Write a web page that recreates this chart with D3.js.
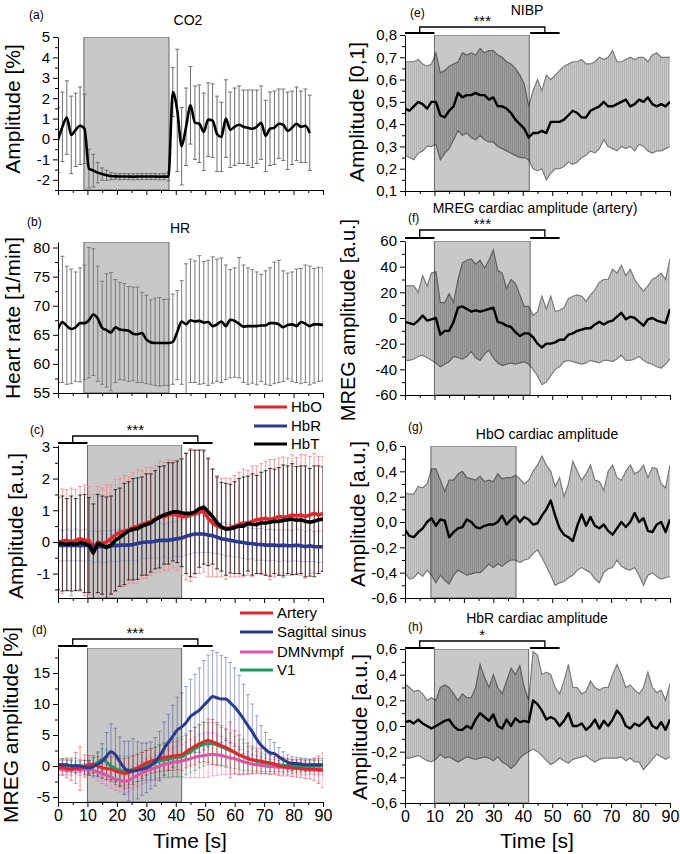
<!DOCTYPE html>
<html>
<head>
<meta charset="utf-8">
<script src="https://cdn.jsdelivr.net/npm/d3@7"></script>
<style>
  body { margin: 0; background: #fff; }
  svg { font-family: "Liberation Sans", Arial, sans-serif; }
</style>
</head>
<body>
<svg id="chart" width="680" height="854"></svg>
<script>
// Time grid [s]
var time = [0, 1.5, 3, 4.5, 6, 7.5, 9, 10.5, 12, 13.5,
  15, 16.5, 18, 19.5, 21, 22.5, 24, 25.5, 27, 28.5,
  30, 31.5, 33, 34.5, 36, 37.5, 39, 40.5, 42, 43.5,
  45, 46.5, 48, 49.5, 51, 52.5, 54, 55.5, 57, 58.5,
  60, 61.5, 63, 64.5, 66, 67.5, 69, 70.5, 72, 73.5,
  75, 76.5, 78, 79.5, 81, 82.5, 84, 85.5, 87, 88.5, 90];

// Breath-hold periods [s] and significance brackets
var stimShort = [8.8, 37.7];
var stimLong = [10, 42];
var stimNibp = [10, 42.2];
var stimCard = [10, 42.5];
var sigBase = [0, 10];
var sigPost = [42.5, 52.5];
var sigArms = [5, 47.5];

// Tick labels
var xMajor = [0, 10, 20, 30, 40, 50, 60, 70, 80, 90];
var xMinor = [5, 15, 25, 35, 45, 55, 65, 75, 85];
var co2Ticks = [-2, -1, 0, 1, 2, 3, 4, 5];
var co2Minor = [-2.5, -1.5, -0.5, 0.5, 1.5, 2.5, 3.5, 4.5];
var hrTicks = [55, 60, 65, 70, 75, 80];
var hrMinor = [57.5, 62.5, 67.5, 72.5, 77.5];
var nirsTicks = [-1, 0, 1, 2, 3];
var nirsMinor = [-1.5, -0.5, 0.5, 1.5, 2.5];
var mregTicks = [-5, 0, 5, 10, 15];
var mregMinor = [-2.5, 2.5, 7.5, 12.5, 17.5];
var nibpTicks = [0.1, 0.2, 0.3, 0.4, 0.5, 0.6, 0.7, 0.8];
var nibpMinor = [0.15, 0.25, 0.35, 0.45, 0.55, 0.65, 0.75];
var cardTicks = [-60, -40, -20, 0, 20, 40, 60];
var cardMinor = [-50, -30, -10, 10, 30, 50];
var hbTicks = [-0.6, -0.4, -0.2, 0, 0.2, 0.4, 0.6];
var hbMinor = [-0.5, -0.3, -0.1, 0.1, 0.3, 0.5];

// (a) CO2
var co2Mean = [-0.05, 0.6, 1.05, 0.2, 0.45, 0.65, 0.5, -1.45, -1.55, -1.65,
  -1.72, -1.78, -1.82, -1.83, -1.84, -1.84, -1.84, -1.85, -1.84, -1.84,
  -1.84, -1.84, -1.84, -1.85, -1.84, -1.85, 2.3, 1.4, -0.35, 0.6,
  1.65, 0.8, 0.75, 0.35, 0.95, 0.9, 0.25, 0.1, 1.0, 0.45,
  0.6, 0.7, 0.6, 0.55, 0.5, 0.6, 0.8, 0.15, 0.5, 0.55,
  0.75, 0.7, 0.4, 0.55, 0.75, 0.6, 0.65, 0.3, null, null, null];
var co2Err = [1.6, 1.7, 1.8, 1.9, 1.8, 1.9, 1.7, 0.95, 0.8, 0.5,
  0.3, 0.25, 0.18, 0.15, 0.15, 0.15, 0.15, 0.15, 0.15, 0.15,
  0.15, 0.15, 0.15, 0.15, 0.15, 0.2, 1.2, 3.0, 1.9, 1.9,
  1.9, 1.8, 1.9, 1.9, 1.8, 1.8, 1.85, 1.7, 1.9, 1.85,
  1.9, 1.9, 1.8, 1.85, 1.9, 1.8, 1.8, 1.75, 1.8, 1.8,
  1.7, 1.75, 1.9, 1.8, 1.8, 1.75, 1.8, 1.85, null, null, null];

// (b) HR
var hrMean = [66.0, 67.2, 66.5, 66.0, 66.3, 67.0, 67.0, 67.5, 68.5, 67.8,
  66.2, 65.8, 65.4, 66.3, 65.9, 65.8, 65.7, 65.2, 65.1, 65.3,
  64.2, 63.7, 63.6, 63.6, 63.6, 63.6, 63.8, 65.5, 67.3, 66.8,
  67.5, 67.3, 67.4, 67.1, 67.2, 66.5, 66.8, 67.3, 66.5, 67.6,
  67.4, 66.9, 66.4, 66.5, 66.5, 66.5, 66.6, 66.6, 67.0, 67.0,
  66.8, 66.3, 66.7, 66.8, 66.5, 67.2, 66.9, 66.5, 66.8, 66.8, 66.7];
var hrUp = [76.0, 78.5, 76.8, 76.3, 75.8, 76.5, 77.0, 80.0, 79.8, 76.8,
  74.2, 75.5, 75.7, 74.5, 74.0, 73.8, 73.3, 73.2, 73.2, 72.3,
  71.8, 71.0, 71.3, 71.4, 71.1, 71.1, 72.0, 72.6, 74.3, 77.2,
  78.0, 77.7, 78.6, 77.6, 77.8, 78.4, 78.0, 78.2, 77.0, 76.2,
  76.5, 78.3, 77.0, 76.5, 76.2, 75.8, 75.4, 76.0, 76.5, 77.5,
  77.8, 76.0, 75.6, 75.8, 76.3, 76.4, 77.0, 76.8, 76.4, 76.6, 76.5];
var hrLo = [56.8, 56.8, 56.5, 56.6, 57.0, 56.9, 57.3, 57.6, 58.0, 57.0,
  56.5, 56.0, 55.4, 56.8, 57.3, 57.2, 57.0, 57.1, 56.8, 56.8,
  56.6, 56.5, 56.3, 56.2, 56.3, 56.3, 56.5, 57.3, 56.5, 54.5,
  56.8, 56.8, 56.5, 56.6, 56.3, 56.7, 57.0, 56.8, 57.3, 57.6,
  57.7, 57.6, 56.8, 56.5, 56.7, 56.4, 57.0, 56.5, 56.3, 56.6,
  56.8, 57.0, 57.4, 57.0, 56.8, 56.6, 56.8, 56.4, 56.7, 57.0, 57.1];

// (c) NIRS
var nirsNames = ["HbO", "HbR", "HbT"];
var nirsColors = ["#e3262d", "#2b3a8f", "#000000"];
var hboMean = [0.0, 0.02, 0.05, 0.0, 0.05, 0.1, 0.05, 0.05, -0.2, 0.0,
  -0.05, 0.0, 0.1, 0.22, 0.3, 0.35, 0.38, 0.45, 0.5, 0.55,
  0.6, 0.65, 0.72, 0.8, 0.8, 0.85, 0.88, 0.85, 0.8, 0.8,
  0.85, 0.88, 0.95, 0.95, 0.75, 0.6, 0.5, 0.45, 0.42, 0.45,
  0.5, 0.55, 0.6, 0.6, 0.65, 0.7, 0.72, 0.75, 0.7, 0.75,
  0.8, 0.78, 0.8, 0.85, 0.82, 0.85, 0.8, 0.85, 0.9, 0.85, 0.9];
var hbrMean = [-0.1, -0.12, -0.1, -0.12, -0.1, -0.12, -0.1, -0.12, -0.15, -0.15,
  -0.15, -0.15, -0.12, -0.12, -0.1, -0.1, -0.1, -0.08, -0.05, -0.02,
  0.0, 0.0, 0.02, 0.05, 0.05, 0.05, 0.08, 0.1, 0.12, 0.18,
  0.22, 0.25, 0.25, 0.25, 0.22, 0.2, 0.15, 0.1, 0.08, 0.05,
  0.02, 0.0, -0.02, -0.05, -0.05, -0.08, -0.08, -0.1, -0.1, -0.1,
  -0.12, -0.1, -0.12, -0.12, -0.1, -0.12, -0.15, -0.12, -0.15, -0.15, -0.15];
var hbtMean = [-0.05, -0.05, -0.08, -0.05, -0.08, -0.02, -0.05, -0.1, -0.35, -0.05,
  -0.1, -0.18, -0.1, 0.05, 0.15, 0.25, 0.35, 0.4, 0.42, 0.5,
  0.55, 0.6, 0.7, 0.78, 0.85, 0.9, 0.95, 0.95, 0.92, 0.9,
  0.9, 0.95, 1.05, 1.1, 0.95, 0.8, 0.6, 0.48, 0.4, 0.42,
  0.45, 0.5, 0.5, 0.58, 0.55, 0.55, 0.6, 0.6, 0.62, 0.65,
  0.65, 0.68, 0.7, 0.72, 0.68, 0.7, 0.65, 0.62, 0.65, 0.7, 0.72];
var hboErr = [1.6, 1.65, 1.6, 1.7, 1.6, 1.65, 1.75, 1.7, 1.7, 1.75,
  1.75, 1.8, 1.7, 1.75, 1.7, 1.75, 1.7, 1.75, 1.8, 1.7,
  1.75, 1.7, 1.7, 1.75, 1.7, 1.75, 1.7, 1.75, 1.85, 2.0,
  2.1, 2.0, 1.95, 1.9, 1.85, 1.7, 1.6, 1.55, 1.6, 1.55,
  1.6, 1.65, 1.7, 1.65, 1.75, 1.7, 1.75, 1.8, 1.9, 1.85,
  1.85, 1.9, 1.85, 1.9, 1.85, 1.9, 1.95, 1.85, 1.9, 1.85, 1.8];
var hbrErr = [0.5, 0.48, 0.5, 0.47, 0.5, 0.48, 0.5, 0.47, 0.5, 0.48,
  0.5, 0.5, 0.48, 0.5, 0.5, 0.48, 0.5, 0.5, 0.52, 0.5,
  0.52, 0.5, 0.52, 0.55, 0.52, 0.55, 0.55, 0.55, 0.58, 0.6,
  0.6, 0.58, 0.6, 0.58, 0.55, 0.55, 0.52, 0.5, 0.52, 0.5,
  0.5, 0.48, 0.5, 0.5, 0.48, 0.5, 0.5, 0.48, 0.5, 0.48,
  0.5, 0.48, 0.5, 0.48, 0.5, 0.5, 0.48, 0.5, 0.48, 0.5, 0.5];
var hbtErr = [1.45, 1.5, 1.45, 1.5, 1.45, 1.5, 1.55, 1.5, 1.55, 1.55,
  1.55, 1.6, 1.55, 1.6, 1.55, 1.6, 1.55, 1.6, 1.6, 1.55,
  1.6, 1.55, 1.55, 1.6, 1.55, 1.6, 1.55, 1.6, 1.7, 1.9,
  2.0, 1.95, 1.85, 1.8, 1.7, 1.5, 1.45, 1.4, 1.45, 1.4,
  1.45, 1.5, 1.55, 1.5, 1.6, 1.55, 1.6, 1.65, 1.7, 1.65,
  1.7, 1.75, 1.7, 1.75, 1.7, 1.7, 1.75, 1.7, 1.75, 1.7, 1.65];

// (d) MREG
var mregNames = ["Artery", "Sagittal sinus", "DMNvmpf", "V1"];
var mregColors = ["#e3262d", "#2b3a8f", "#e052a6", "#1f9a5e"];
var arteryMean = [-0.3, -0.2, -0.4, -0.5, -0.3, -0.4, 0.0, 0.2, 0.3, 0.0,
  -0.3, -0.4, -0.5, -0.8, -1.0, -1.2, -1.1, -0.7, -0.3, 0.1,
  0.5, 0.8, 1.0, 1.2, 1.4, 1.5, 1.6, 1.7, 1.8, 2.3,
  2.8, 3.2, 3.6, 3.9, 4.1, 3.9, 3.6, 3.3, 3.0, 2.6,
  2.2, 1.8, 1.5, 1.2, 1.0, 0.9, 0.8, 0.6, 0.5, 0.3,
  0.0, -0.1, -0.2, -0.3, -0.4, -0.4, -0.5, -0.5, -0.5, -0.6, -0.7];
var sinusMean = [0.3, 0.2, 0.2, 0.0, 0.1, 0.0, -0.2, -0.3, -0.1, 0.3,
  0.8, 1.6, 2.3, 1.8, 0.7, -0.3, -0.8, -0.8, -0.7, -0.5,
  -0.3, 0.1, 0.7, 1.6, 2.8, 3.8, 4.8, 5.8, 6.3, 7.0,
  8.0, 8.5, 9.0, 9.8, 10.5, 11.2, 11.0, 10.8, 10.8, 10.2,
  9.5, 8.6, 7.6, 6.5, 5.5, 4.3, 3.3, 2.7, 2.1, 2.0,
  1.5, 1.0, 0.6, 0.4, 0.4, 0.3, 0.2, 0.2, 0.2, 0.2, 0.2];
var dmnMean = [-0.5, -0.5, -0.6, -0.6, -0.5, -0.6, -0.5, -0.5, -0.7, -1.0,
  -1.2, -1.5, -1.8, -2.1, -2.3, -2.5, -2.3, -1.9, -1.5, -1.1,
  -0.8, -0.5, -0.3, 0.0, 0.3, 0.4, 0.6, 0.7, 0.8, 1.0,
  1.2, 1.4, 1.6, 1.7, 1.8, 1.9, 1.8, 1.7, 1.5, 1.3,
  1.2, 0.9, 0.7, 0.5, 0.3, 0.2, 0.1, 0.0, -0.1, -0.1,
  -0.2, -0.2, -0.3, -0.3, -0.3, -0.4, -0.4, -0.4, -0.5, -0.5, -0.5];
var v1Mean = [0.2, 0.1, 0.0, 0.0, -0.1, 0.0, 0.0, -0.1, 0.1, 0.6,
  1.0, 0.6, 0.0, -0.4, -0.7, -0.8, -0.7, -0.5, -0.3, -0.1,
  0.1, 0.3, 0.5, 0.8, 1.0, 1.1, 1.3, 1.4, 1.5, 1.9,
  2.3, 2.8, 3.2, 3.5, 3.6, 3.6, 3.4, 3.1, 2.8, 2.5,
  2.2, 1.8, 1.5, 1.2, 1.0, 0.8, 0.6, 0.5, 0.4, 0.3,
  0.2, 0.1, 0.1, 0.0, 0.0, 0.0, 0.0, 0.0, 0.0, 0.0, 0.0];
var arteryErr = [1.2, 1.3, 1.5, 1.8, 2.5, 3.5, 1.8, 1.5, 1.4, 1.5,
  1.6, 1.8, 2.0, 2.2, 2.3, 2.4, 2.4, 2.3, 2.2, 2.1,
  2.0, 2.0, 2.0, 2.1, 2.2, 2.2, 2.3, 2.3, 2.5, 2.6,
  2.8, 3.0, 3.0, 3.2, 3.5, 3.6, 3.4, 3.2, 3.0, 4.5,
  3.5, 3.2, 2.8, 2.5, 2.2, 2.0, 2.0, 1.8, 1.8, 1.6,
  1.5, 1.5, 1.4, 1.4, 1.4, 1.5, 1.5, 1.6, 1.8, 2.2, 2.8];
var sinusErr = [0.9, 1.0, 1.1, 1.0, 1.2, 1.0, 1.1, 1.2, 1.5, 2.0,
  2.8, 3.8, 4.5, 4.3, 4.0, 4.3, 4.8, 5.2, 4.6, 4.2,
  4.0, 3.8, 3.9, 4.0, 4.3, 4.5, 5.0, 5.3, 5.5, 5.8,
  6.0, 6.3, 6.8, 7.2, 7.4, 7.4, 7.3, 7.0, 6.7, 6.5,
  6.3, 6.0, 5.6, 5.0, 4.5, 3.8, 3.2, 2.7, 2.2, 1.8,
  1.5, 1.3, 1.2, 1.1, 1.0, 1.0, 1.0, 0.9, 0.9, 1.0, 1.0];
var dmnErr = [0.8, 0.9, 0.8, 0.9, 0.8, 0.9, 0.9, 1.0, 1.2, 1.4,
  1.6, 1.7, 1.8, 1.8, 1.9, 1.9, 1.9, 1.8, 1.8, 1.8,
  1.9, 1.9, 2.0, 2.1, 2.2, 2.3, 2.4, 2.5, 2.7, 2.9,
  3.1, 3.3, 3.5, 3.6, 3.6, 3.5, 3.3, 3.1, 2.9, 2.6,
  2.4, 2.2, 2.0, 1.8, 1.6, 1.5, 1.4, 1.3, 1.2, 1.2,
  1.1, 1.1, 1.0, 1.0, 1.0, 1.0, 1.0, 0.9, 0.9, 0.9, 0.9];
var v1Err = [0.8, 0.8, 0.9, 0.8, 0.9, 0.8, 0.9, 1.0, 1.2, 1.5,
  1.8, 2.0, 2.2, 2.3, 2.4, 2.4, 2.3, 2.2, 2.2, 2.3,
  2.4, 2.5, 2.6, 2.7, 2.8, 2.9, 3.0, 3.1, 3.2, 3.3,
  3.4, 3.5, 3.5, 3.5, 3.4, 3.4, 3.3, 3.1, 3.0, 2.8,
  2.6, 2.4, 2.2, 2.0, 1.8, 1.6, 1.5, 1.4, 1.3, 1.2,
  1.1, 1.1, 1.0, 1.0, 1.0, 1.0, 0.9, 0.9, 0.9, 0.9, 0.9];

// (e) NIBP
var nibpMean = [0.47, 0.46, 0.48, 0.50, 0.49, 0.47, 0.50, 0.50, 0.44, 0.43,
  0.46, 0.48, 0.54, 0.52, 0.53, 0.53, 0.54, 0.53, 0.53, 0.51,
  0.52, 0.48, 0.48, 0.47, 0.45, 0.42, 0.40, 0.38, 0.34, 0.36,
  0.36, 0.37, 0.36, 0.41, 0.41, 0.41, 0.42, 0.44, 0.46, 0.45,
  0.43, 0.43, 0.46, 0.47, 0.48, 0.50, 0.48, 0.48, 0.49, 0.50,
  0.51, 0.48, 0.49, 0.51, 0.50, 0.52, 0.49, 0.48, 0.49, 0.48, 0.50];
var nibpUp = [0.68, 0.68, 0.68, 0.69, 0.67, 0.66, 0.67, 0.72, 0.63, 0.64,
  0.66, 0.67, 0.68, 0.72, 0.71, 0.72, 0.71, 0.74, 0.72, 0.73,
  0.73, 0.71, 0.70, 0.68, 0.67, 0.65, 0.62, 0.58, 0.48, 0.55,
  0.60, 0.55, 0.62, 0.60, 0.62, 0.64, 0.66, 0.67, 0.68, 0.68,
  0.69, 0.67, 0.67, 0.68, 0.70, 0.69, 0.70, 0.73, 0.68, 0.68,
  0.69, 0.70, 0.69, 0.70, 0.70, 0.68, 0.71, 0.72, 0.70, 0.70, 0.70];
var nibpLo = [0.26, 0.25, 0.24, 0.27, 0.28, 0.30, 0.30, 0.31, 0.24, 0.27,
  0.29, 0.33, 0.37, 0.35, 0.36, 0.34, 0.33, 0.35, 0.33, 0.32,
  0.32, 0.30, 0.29, 0.28, 0.27, 0.26, 0.25, 0.25, 0.24, 0.20,
  0.19, 0.20, 0.15, 0.18, 0.20, 0.20, 0.21, 0.23, 0.22, 0.23,
  0.25, 0.26, 0.28, 0.27, 0.29, 0.33, 0.30, 0.29, 0.28, 0.30,
  0.29, 0.30, 0.28, 0.31, 0.30, 0.28, 0.27, 0.28, 0.28, 0.29, 0.30];

// (f) MREG cardiac amplitude (artery)
var cardMean = [-3, -4, -5, -2, 2, -2, -1, 0, -13, -10,
  -10, -3, 8, 9, 7, 5, 6, 5, 6, 7,
  8, -3, -4, -6, -7, -11, -14, -12, -12, -15,
  -20, -23, -20, -20, -19, -17, -17, -13, -12, -10,
  -9, -8, -8, -5, -3, -5, -3, -2, 1, 4,
  -1, 1, 0, -3, -6, -1, 0, -2, -3, -4, 7];
var cardUp = [25, 25, 25, 20, 33, 25, 35, 36, 12, 12,
  19, 12, 30, 43, 45, 46, 42, 45, 39, 45,
  53, 37, 35, 23, 30, 27, 18, 9, 9, 2,
  5, 17, 7, 17, 5, 6, 8, 15, 17, 18,
  17, 13, 18, 22, 28, 30, 30, 38, 35, 41,
  33, 38, 30, 25, 21, 25, 30, 32, 35, 30, 46];
var cardLo = [-33, -33, -32, -30, -29, -31, -33, -35, -38, -36,
  -34, -30, -31, -32, -30, -26, -31, -33, -28, -25,
  -31, -35, -37, -36, -35, -36, -35, -34, -36, -40,
  -45, -52, -50, -45, -40, -38, -34, -33, -34, -35,
  -36, -35, -33, -34, -35, -33, -33, -34, -32, -29,
  -33, -33, -32, -30, -33, -35, -36, -38, -39, -36, -32];

// (g) HbO cardiac amplitude
var hboCardMean = [-0.06, -0.11, -0.12, -0.08, -0.05, 0.00, 0.03, -0.03, 0.02, 0.01,
  -0.12, -0.08, -0.05, -0.04, 0.02, 0.00, -0.04, -0.05, -0.03, -0.02,
  -0.02, 0.00, 0.05, -0.02, 0.02, 0.05, 0.00, 0.04, 0.02, -0.02,
  -0.01, 0.05, 0.10, 0.17, 0.05, -0.05, -0.10, -0.12, -0.15, -0.03,
  0.06, -0.03, 0.04, -0.03, -0.05, -0.02, -0.07, -0.10, -0.05, 0.00,
  -0.04, 0.00, 0.07, 0.00, 0.03, -0.07, -0.08, -0.02, 0.00, -0.08, 0.02];
var hboCardUp = [0.23, 0.22, 0.22, 0.28, 0.27, 0.30, 0.42, 0.42, 0.33, 0.24,
  0.33, 0.33, 0.38, 0.40, 0.35, 0.34, 0.33, 0.36, 0.32, 0.33,
  0.32, 0.38, 0.34, 0.35, 0.35, 0.37, 0.34, 0.30, 0.33, 0.40,
  0.45, 0.52, 0.45, 0.40, 0.28, 0.35, 0.20, 0.30, 0.48, 0.40,
  0.33, 0.38, 0.45, 0.33, 0.32, 0.25, 0.40, 0.45, 0.35, 0.33,
  0.40, 0.45, 0.38, 0.40, 0.45, 0.35, 0.43, 0.42, 0.30, 0.27, 0.45];
var hboCardLo = [-0.40, -0.45, -0.44, -0.40, -0.43, -0.38, -0.42, -0.48, -0.42, -0.46,
  -0.49, -0.42, -0.38, -0.40, -0.42, -0.41, -0.40, -0.40, -0.37, -0.33,
  -0.36, -0.33, -0.35, -0.32, -0.30, -0.30, -0.32, -0.30, -0.29, -0.25,
  -0.22, -0.28, -0.35, -0.42, -0.50, -0.48, -0.47, -0.44, -0.42, -0.38,
  -0.36, -0.38, -0.40, -0.45, -0.48, -0.40, -0.37, -0.36, -0.30, -0.35,
  -0.37, -0.38, -0.36, -0.42, -0.50, -0.42, -0.40, -0.43, -0.45, -0.44, -0.43];

// (h) HbR cardiac amplitude
var hbrCardMean = [0.03, 0.04, 0.02, 0.05, 0.02, 0.00, -0.02, 0.00, 0.02, 0.04,
  0.05, 0.00, -0.03, -0.03, 0.00, -0.02, 0.05, 0.10, 0.07, 0.04,
  0.09, 0.00, -0.02, 0.05, 0.00, 0.06, 0.03, 0.04, 0.03, 0.20,
  0.17, 0.12, 0.05, 0.07, 0.05, 0.00, 0.04, 0.10, 0.00, 0.00,
  0.02, -0.03, 0.00, 0.05, -0.02, 0.04, 0.00, 0.05, 0.12, 0.08,
  0.00, -0.02, 0.02, 0.00, 0.03, 0.07, 0.00, -0.02, 0.03, -0.03, 0.05];
var hbrCardUp = [0.33, 0.30, 0.27, 0.28, 0.25, 0.20, 0.22, 0.20, 0.30, 0.32,
  0.30, 0.25, 0.20, 0.25, 0.22, 0.22, 0.30, 0.48, 0.38, 0.30,
  0.40, 0.30, 0.25, 0.35, 0.45, 0.40, 0.47, 0.30, 0.20, 0.58,
  0.55, 0.40, 0.42, 0.40, 0.30, 0.25, 0.35, 0.48, 0.30, 0.30,
  0.25, 0.27, 0.35, 0.30, 0.28, 0.30, 0.30, 0.40, 0.48, 0.40,
  0.30, 0.32, 0.28, 0.25, 0.30, 0.42, 0.30, 0.26, 0.28, 0.20, 0.33];
var hbrCardLo = [-0.25, -0.25, -0.24, -0.23, -0.25, -0.27, -0.28, -0.26, -0.22, -0.25,
  -0.24, -0.26, -0.28, -0.26, -0.24, -0.25, -0.26, -0.25, -0.24, -0.25,
  -0.27, -0.24, -0.28, -0.30, -0.33, -0.30, -0.25, -0.22, -0.20, -0.18,
  -0.20, -0.23, -0.27, -0.30, -0.28, -0.25, -0.27, -0.29, -0.26, -0.25,
  -0.24, -0.23, -0.26, -0.28, -0.26, -0.25, -0.25, -0.25, -0.25, -0.24,
  -0.27, -0.25, -0.28, -0.28, -0.34, -0.30, -0.26, -0.22, -0.24, -0.26, -0.24];

// ---------------------------------------------------------------
var svg = d3.select("#chart");
var defs = svg.append("defs");
var FONT = "Liberation Sans, Arial, sans-serif";

// fine vertical hatching, like the dense error bars of the original
var hatch = defs.append("pattern").attr("id", "hatch")
  .attr("patternUnits", "userSpaceOnUse").attr("width", 2).attr("height", 4);
hatch.append("rect").attr("width", 2).attr("height", 4).attr("fill", "#c9c9c9");
hatch.append("rect").attr("width", 1).attr("height", 4).attr("fill", "#b3b3b3");

var locDot = d3.formatLocale({decimal: ".", thousands: ",", grouping: [3], currency: ["", ""], minus: "-"});
var locComma = d3.formatLocale({decimal: ",", thousands: ".", grouping: [3], currency: ["", ""], minus: "-"});

var xLeft = d3.scaleLinear().domain([0, 90]).range([58, 323]);
var xRight = d3.scaleLinear().domain([0, 90]).range([405, 670]);

var clipCount = 0;
function makePanel(o) {
  var id = "clip" + (clipCount++);
  var y = d3.scaleLinear().domain(o.domain).range(o.range);
  var x = o.x;
  defs.append("clipPath").attr("id", id).append("rect")
    .attr("x", x.range()[0]).attr("y", o.range[1])
    .attr("width", x.range()[1] - x.range()[0])
    .attr("height", o.range[0] - o.range[1]);
  var g = svg.append("g").attr("clip-path", "url(#" + id + ")");
  return {x: x, y: y, g: g, o: o};
}

function drawStim(p, stim, blend) {
  var r = p.g.append("rect")
    .attr("x", p.x(stim[0])).attr("width", p.x(stim[1]) - p.x(stim[0]))
    .attr("y", p.o.range[1]).attr("height", p.o.range[0] - p.o.range[1])
    .attr("fill", "#c8c8c8").attr("stroke", "#666").attr("stroke-width", 1);
  if (blend) r.style("mix-blend-mode", "multiply");
}

function drawBars(p, lo, hi, color, opacity, width) {
  var idx = d3.range(time.length).filter(function (i) { return lo[i] != null; });
  var g = p.g.append("g")
    .attr("stroke", color).attr("stroke-opacity", opacity).attr("stroke-width", width);
  var bar = g.selectAll("g").data(idx).enter().append("g");
  bar.append("line")
    .attr("x1", function (i) { return p.x(time[i]); })
    .attr("x2", function (i) { return p.x(time[i]); })
    .attr("y1", function (i) { return p.y(lo[i]); })
    .attr("y2", function (i) { return p.y(hi[i]); });
  [lo, hi].forEach(function (arr) {
    bar.append("line")
      .attr("x1", function (i) { return p.x(time[i]) - 2; })
      .attr("x2", function (i) { return p.x(time[i]) + 2; })
      .attr("y1", function (i) { return p.y(arr[i]); })
      .attr("y2", function (i) { return p.y(arr[i]); });
  });
}

function barsFromErr(p, mean, err, color, opacity, width) {
  var lo = mean.map(function (m, i) { return m == null ? null : m - err[i]; });
  var hi = mean.map(function (m, i) { return m == null ? null : m + err[i]; });
  drawBars(p, lo, hi, color, opacity, width);
}

function drawLine(p, values, color, width, curve) {
  var line = d3.line()
    .defined(function (d) { return d[1] != null; })
    .x(function (d) { return p.x(d[0]); })
    .y(function (d) { return p.y(d[1]); })
    .curve(curve || d3.curveMonotoneX);
  p.g.append("path")
    .datum(time.map(function (t, i) { return [t, values[i]]; }))
    .attr("d", line)
    .attr("fill", "none").attr("stroke", color).attr("stroke-width", width)
    .attr("stroke-linejoin", "round");
}

function drawBand(p, lo, hi) {
  var data = time.map(function (t, i) { return [t, lo[i], hi[i]]; });
  var area = d3.area()
    .x(function (d) { return p.x(d[0]); })
    .y0(function (d) { return p.y(d[1]); })
    .y1(function (d) { return p.y(d[2]); });
  p.g.append("path").datum(data).attr("d", area).attr("fill", "url(#hatch)");
  [1, 2].forEach(function (k) {
    p.g.append("path").datum(data)
      .attr("d", d3.line().x(function (d) { return p.x(d[0]); }).y(function (d) { return p.y(d[k]); }))
      .attr("fill", "none").attr("stroke", "#7a7a7a").attr("stroke-width", 1.2);
  });
}

function drawAxes(p) {
  var o = p.o, x = p.x, y = p.y;
  var ax = svg.append("g");
  var x0 = x.range()[0];
  ax.append("g").attr("transform", "translate(" + x0 + ",0)")
    .call(d3.axisLeft(y).tickValues(o.minor).tickSize(3).tickSizeOuter(0).tickFormat(""))
    .select(".domain").remove();
  var ya = ax.append("g").attr("transform", "translate(" + x0 + ",0)")
    .call(d3.axisLeft(y).tickValues(o.major).tickSize(5).tickSizeOuter(0).tickPadding(3).tickFormat(o.fmt));
  ya.attr("font-family", FONT);
  ya.selectAll("text").style("font-size", "15px");
  ax.append("g").attr("transform", "translate(0," + o.range[0] + ")")
    .call(d3.axisBottom(x).tickValues(xMinor).tickSize(3).tickSizeOuter(0).tickFormat(""))
    .select(".domain").remove();
  var xa = ax.append("g").attr("transform", "translate(0," + o.range[0] + ")")
    .call(d3.axisBottom(x).tickValues(xMajor).tickSize(5).tickSizeOuter(0)
      .tickFormat(o.showX ? locDot.format("d") : ""));
  xa.attr("font-family", FONT);
  xa.selectAll("text").style("font-size", "16px");
}

function text(x, y, str, size, anchor) {
  return svg.append("text").attr("x", x).attr("y", y)
    .attr("text-anchor", anchor || "middle")
    .style("font-size", size + "px").text(str);
}

function yLabel(x, y, str, size) {
  svg.append("text")
    .attr("transform", "translate(" + x + "," + y + ") rotate(-90)")
    .attr("text-anchor", "middle")
    .style("font-size", (size || 21) + "px").text(str);
}

function drawBracket(p, yLow, yTop, stars) {
  var x = p.x;
  var g = svg.append("g").attr("stroke", "#000").attr("fill", "none");
  [sigBase, sigPost].forEach(function (seg) {
    g.append("line").attr("x1", x(seg[0])).attr("x2", x(seg[1]))
      .attr("y1", yLow).attr("y2", yLow).attr("stroke-width", 2);
  });
  g.append("path")
    .attr("d", "M" + x(sigArms[0]) + "," + yLow + "V" + yTop + "H" + x(sigArms[1]) + "V" + yLow)
    .attr("stroke-width", 1.3);
  text((x(sigArms[0]) + x(sigArms[1])) / 2, yTop - 1, stars, 15);
}

function drawLegend(names, colors, x0, ys) {
  names.forEach(function (n, i) {
    svg.append("line").attr("x1", x0).attr("x2", x0 + 33)
      .attr("y1", ys[i]).attr("y2", ys[i])
      .attr("stroke", colors[i]).attr("stroke-width", 3);
    text(x0 + 37, ys[i] + 5, n, 15, "start");
  });
}

var fmtInt = locDot.format("d");
var fmt1 = locComma.format(".1f");

// ---------- (a) CO2 ----------
var pa = makePanel({x: xLeft, domain: [-2.5, 5], range: [190, 37], major: co2Ticks, minor: co2Minor, fmt: fmtInt});
drawStim(pa, stimShort);
barsFromErr(pa, co2Mean, co2Err, "#6e6e6e", 1, 1);
drawLine(pa, co2Mean, "#000", 2.6);
drawAxes(pa);

// ---------- (b) HR ----------
var pb = makePanel({x: xLeft, domain: [55, 80.95], range: [393, 242], major: hrTicks, minor: hrMinor, fmt: fmtInt});
drawStim(pb, stimShort);
drawBars(pb, hrLo, hrUp, "#7a7a7a", 1, 1);
drawLine(pb, hrMean, "#000", 2.6);
drawAxes(pb);

// ---------- (c) NIRS ----------
var pc = makePanel({x: xLeft, domain: [-1.77, 3.06], range: [598, 445], major: nirsTicks, minor: nirsMinor, fmt: fmtInt});
drawStim(pc, stimLong);
barsFromErr(pc, hboMean, hboErr, "#f08a8f", 0.85, 1);
barsFromErr(pc, hbrMean, hbrErr, "#7f8cc0", 0.6, 1);
barsFromErr(pc, hbtMean, hbtErr, "#111", 1, 0.8);
drawLine(pc, hboMean, nirsColors[0], 3.6, d3.curveLinear);
drawLine(pc, hbrMean, nirsColors[1], 3.6, d3.curveLinear);
drawLine(pc, hbtMean, nirsColors[2], 3.6, d3.curveLinear);
drawAxes(pc);
drawBracket(pc, 443, 436, "***");
drawLegend(nirsNames, nirsColors, 254, [407, 426, 444]);

// ---------- (d) MREG ----------
var pd = makePanel({x: xLeft, domain: [-5.8, 19.03], range: [802, 648], major: mregTicks, minor: mregMinor, fmt: fmtInt, showX: true});
drawStim(pd, stimLong);
barsFromErr(pd, dmnMean, dmnErr, mregColors[2], 0.45, 1);
barsFromErr(pd, v1Mean, v1Err, mregColors[3], 0.45, 1);
barsFromErr(pd, sinusMean, sinusErr, mregColors[1], 0.45, 1);
barsFromErr(pd, arteryMean, arteryErr, mregColors[0], 0.5, 1);
drawLine(pd, dmnMean, mregColors[2], 3);
drawLine(pd, v1Mean, mregColors[3], 3);
drawLine(pd, arteryMean, mregColors[0], 3);
drawLine(pd, sinusMean, mregColors[1], 3);
drawAxes(pd);
drawBracket(pd, 646, 639, "***");
drawLegend(mregNames, mregColors, 240, [613, 632, 652, 670]);

// ---------- (e) NIBP ----------
var pe = makePanel({x: xRight, domain: [0.1, 0.8], range: [191, 35], major: nibpTicks, minor: nibpMinor, fmt: fmt1});
drawBand(pe, nibpLo, nibpUp);
drawStim(pe, stimNibp, true);
drawLine(pe, nibpMean, "#000", 2.4, d3.curveLinear);
drawAxes(pe);
drawBracket(pe, 33, 27, "***");

// ---------- (f) MREG cardiac ----------
var pf = makePanel({x: xRight, domain: [-60, 60], range: [395, 241], major: cardTicks, minor: cardMinor, fmt: fmtInt});
drawBand(pf, cardLo, cardUp);
drawStim(pf, stimCard, true);
drawLine(pf, cardMean, "#000", 2.4, d3.curveLinear);
drawAxes(pf);
drawBracket(pf, 238, 230, "***");

// ---------- (g) HbO cardiac ----------
var pg = makePanel({x: xRight, domain: [-0.6, 0.6], range: [598, 446], major: hbTicks, minor: hbMinor, fmt: fmt1});
drawBand(pg, hboCardLo, hboCardUp);
drawStim(pg, stimShort, true);
drawLine(pg, hboCardMean, "#000", 2.4, d3.curveLinear);
drawAxes(pg);

// ---------- (h) HbR cardiac ----------
var ph = makePanel({x: xRight, domain: [-0.6, 0.6], range: [803, 649], major: hbTicks, minor: hbMinor, fmt: fmt1, showX: true});
drawBand(ph, hbrCardLo, hbrCardUp);
drawStim(ph, stimLong, true);
drawLine(ph, hbrCardMean, "#000", 2.4, d3.curveLinear);
drawAxes(ph);
drawBracket(ph, 648, 641, "*");

// ---------- texts ----------
text(29, 19, "(a)", 12, "start");
text(27, 226, "(b)", 12, "start");
text(30, 434, "(c)", 12, "start");
text(32, 634, "(d)", 12, "start");
text(410, 17, "(e)", 12, "start");
text(408, 222, "(f)", 12, "start");
text(408, 431, "(g)", 12, "start");
text(408, 631, "(h)", 12, "start");

text(188, 25, "CO2", 14);
text(180, 233, "HR", 14);
text(527, 15, "NIBP", 14);
text(535, 213, "MREG cardiac amplitude (artery)", 14);
text(547, 439, "HbO cardiac amplitude", 14);
text(537, 623, "HbR cardiac amplitude", 14);

yLabel(20, 109, "Amplitude [%]");
yLabel(20, 318, "Heart rate [1/min]");
yLabel(23, 526, "Amplitude [a.u.]");
yLabel(18, 725, "MREG amplitude [%]");
yLabel(364, 112, "Amplitude [0,1]");
yLabel(355, 320, "MREG amplitude [a.u.]", 20);
yLabel(365, 514, "Amplitude [a.u.]");
yLabel(367, 727, "Amplitude [a.u.]");

text(190, 848, "Time [s]", 21);
text(537, 848, "Time [s]", 21);
</script>
</body>
</html>
